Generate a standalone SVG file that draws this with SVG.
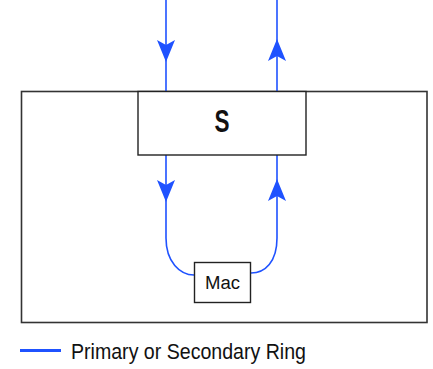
<svg xmlns="http://www.w3.org/2000/svg" width="433" height="369" viewBox="0 0 433 369">
  <style>
    .frame { fill: #fff; stroke: #333; stroke-width: 1.6; }
    .box { fill: #fff; stroke: #222; stroke-width: 1.4; }
    .ring { fill: none; stroke: #1f52ff; stroke-width: 1.6; }
    .head { fill: #1f52ff; }
    .lbl { font-family: "Liberation Sans", Arial, sans-serif; fill: #111; }
  </style>
  <defs>
    <!-- barbed arrowhead, tip at origin, pointing down -->
    <path id="ahead" class="head" d="M0,0 L-9,-22 L0,-17 L9,-22 Z"/>
  </defs>
  <rect width="433" height="369" fill="#fff"/>

  <g id="station">
    <rect class="frame" x="21.5" y="91.5" width="405.5" height="231"/>
  </g>

  <g id="connectors">
    <path class="ring" d="M166,0 V91.5"/>
    <path class="ring" d="M277,0 V91.5"/>
    <path class="ring" d="M166,155 V238 C166,262 180,275 194,275"/>
    <path class="ring" d="M251,273 C265,273 277,262 277,238 V155"/>
    <use href="#ahead" transform="translate(166,62)"/>
    <use href="#ahead" transform="translate(277,39) rotate(180)"/>
    <use href="#ahead" transform="translate(166,202)"/>
    <use href="#ahead" transform="translate(277,179) rotate(180)"/>
  </g>

  <g id="node-s">
    <rect class="box" x="138" y="91.5" width="168" height="63.5"/>
    <text class="lbl" x="222" y="132" font-size="32" font-weight="bold" text-anchor="middle" textLength="15" lengthAdjust="spacingAndGlyphs">S</text>
  </g>

  <g id="node-mac">
    <rect class="box" x="194.5" y="262.5" width="56" height="40"/>
    <text class="lbl" x="222.5" y="288.5" font-size="18" text-anchor="middle" textLength="35" lengthAdjust="spacingAndGlyphs">Mac</text>
  </g>

  <g id="legend">
    <line x1="20" y1="350.5" x2="61" y2="350.5" stroke="#1f52ff" stroke-width="3.2"/>
    <text class="lbl" x="71" y="359" font-size="22" textLength="235" lengthAdjust="spacingAndGlyphs">Primary or Secondary Ring</text>
  </g>
</svg>
